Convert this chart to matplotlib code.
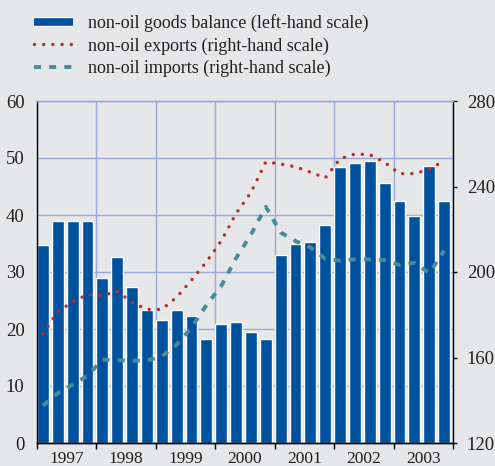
import matplotlib
matplotlib.use("Agg")
import matplotlib.pyplot as plt
from matplotlib.lines import Line2D
import matplotlib.patheffects as pe
import numpy as np

# ---- data (quarterly, 1997Q1 - 2003Q4) ----
years = ["1997", "1998", "1999", "2000", "2001", "2002", "2003"]
balance = [34.7, 38.9, 38.9, 38.9, 29.0, 32.6, 27.3, 23.3,
           21.5, 23.3, 22.3, 18.3, 20.9, 21.2, 19.5, 18.2,
           32.9, 35.0, 35.3, 38.2, 48.5, 49.2, 49.5, 45.7,
           42.5, 39.9, 48.6, 42.5]
exports = [171.0, 181.5, 186.0, 189.5, 189.0, 191.0, 185.8, 182.5,
           182.5, 188.2, 196.2, 204.7, 214.5, 227.4, 237.2, 251.5,
           250.5, 249.2, 246.7, 244.0, 253.0, 255.2, 254.9, 251.3,
           246.0, 246.0, 248.0, 252.0]
imports = [137.5, 143.3, 147.3, 151.5, 159.0, 158.7, 158.5, 158.6,
           160.5, 166.0, 174.0, 184.5, 193.5, 206.5, 217.5, 230.5,
           218.5, 214.5, 211.5, 206.2, 205.3, 205.9, 205.9, 205.6,
           203.3, 204.3, 199.5, 210.0]
labels = ["non-oil goods balance (left-hand scale)",
          "non-oil exports (right-hand scale)",
          "non-oil imports (right-hand scale)"]

BG = "#e6e7e9"
BLUE = "#00529f"
RED = "#b3312d"
TEAL = "#4a8a99"
GRID = "#9aa8d8"
TXT = "#231f20"

plt.rcParams["font.family"] = ["Liberation Serif", "DejaVu Serif"]
plt.rcParams["text.color"] = TXT

fig = plt.figure(figsize=(4.95, 4.66), dpi=100, facecolor=BG)
ax = fig.add_axes([37 / 495, 23 / 466, 416 / 495, 342 / 466])
ax.set_facecolor(BG)

n = len(balance)
q = np.arange(n)
bw = 0.8
ax.bar(q, balance, width=bw, align="edge", color=BLUE,
       edgecolor="white", linewidth=1.0, zorder=2)

ax.set_xlim(0, n)
ax.set_ylim(0, 60)
ax.set_yticks(np.arange(0, 61, 10))
ax.set_xticks(np.arange(0, n + 1, 4))
ax.set_xticklabels([])
ax.set_xticks(np.arange(2, n, 4), minor=True)
ax.set_xticklabels(years, minor=True)
ax.tick_params(axis="x", which="major", direction="out", length=4,
               width=1, color="black")
ax.tick_params(axis="x", which="minor", length=0, pad=6,
               labelsize=12.5, labelcolor=TXT)
ax.tick_params(axis="y", length=0, pad=9, labelsize=13.5, labelcolor=TXT)
ax.set_axisbelow(True)
ax.grid(True, which="major", color=GRID, linewidth=1.0, zorder=0)

ax2 = ax.twinx()
ax2.set_ylim(120, 280)
ax2.set_yticks(np.arange(120, 281, 40))
ax2.tick_params(axis="y", direction="out", length=3, width=1,
                color="black", pad=7, labelsize=13.5, labelcolor=TXT)

DOT = (0, (0.001, 2.65))
DASH = (0, (1.8, 2.1))
xc = q + bw / 2
ax2.plot(xc, exports, color=RED, linewidth=2.5,
         linestyle=DOT, dash_capstyle="round", zorder=3)
ax2.plot(xc, imports, color=TEAL, linewidth=2.8,
         linestyle=DASH, dash_capstyle="butt", zorder=3)

for a in (ax, ax2):
    a.spines["top"].set_color(GRID)
    a.spines["top"].set_linewidth(1.0)
    for s in ("left", "right", "bottom"):
        a.spines[s].set_color("black")
        a.spines[s].set_linewidth(1.0)
ax2.spines["left"].set_visible(False)
ax.spines["right"].set_visible(False)

h_bar = Line2D([], [], color=BLUE, linewidth=5.5, solid_capstyle="butt",
               path_effects=[pe.Stroke(linewidth=7.5, foreground="white"),
                             pe.Normal()])
h_exp = Line2D([], [], color=RED, linewidth=2.5,
               linestyle=DOT, dash_capstyle="round")
h_imp = Line2D([], [], color=TEAL, linewidth=2.8, linestyle=DASH)
fig.legend([h_bar, h_exp, h_imp], labels, loc="upper left",
           bbox_to_anchor=(34 / 495, 1 - 14 / 466), frameon=False,
           fontsize=13, handlelength=2.15, handletextpad=0.85,
           labelspacing=0.3, borderpad=0, borderaxespad=0)

fig.savefig("out.png", dpi=100, facecolor=BG)
